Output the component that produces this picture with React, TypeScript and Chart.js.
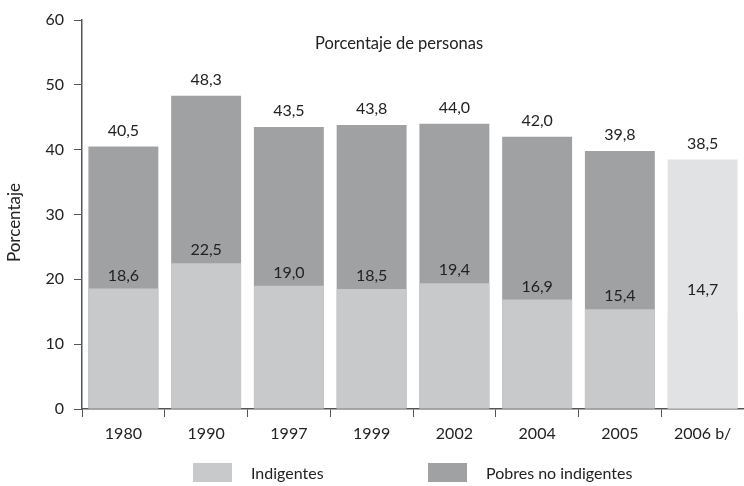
import React, { useEffect, useRef } from "react";
import { Chart, registerables } from "chart.js";

Chart.register(...registerables);

const categories = ["1980", "1990", "1997", "1999", "2002", "2004", "2005", "2006 b/"];
const indigentes = [18.6, 22.5, 19.0, 18.5, 19.4, 16.9, 15.4, 14.7];
const totalPobres = [40.5, 48.3, 43.5, 43.8, 44.0, 42.0, 39.8, 38.5];
const projected = [false, false, false, false, false, false, false, true];
const yTicks = [0, 10, 20, 30, 40, 50, 60];

const COLOR_IND = "#c8c9cb";
const COLOR_POB = "#a0a1a3";
const COLOR_PROJ = "#e1e2e4";
const AXIS = "#555555";
const TEXT = "#222222";
const FONT = "Lato, 'Open Sans', sans-serif";

const fmt = (v: number) => v.toFixed(1).replace(".", ",");

const labelsPlugin = {
  id: "customLabels",
  afterDatasetsDraw(chart: any) {
    const ctx = chart.ctx;
    const y = chart.scales.y;
    const meta0 = chart.getDatasetMeta(0);
    ctx.save();
    ctx.fillStyle = TEXT;
    ctx.font = `16px ${FONT}`;
    ctx.textAlign = "center";
    ctx.textBaseline = "middle";
    meta0.data.forEach((bar: any, i: number) => {
      const x = bar.x;
      const topY = y.getPixelForValue(totalPobres[i]);
      ctx.fillText(fmt(totalPobres[i]), x, topY - 16);
      const indY = y.getPixelForValue(indigentes[i]);
      const off = projected[i] ? 24 : 13;
      ctx.fillText(fmt(indigentes[i]), x, indY - off);
    });
    const ca = chart.chartArea;
    // subtitle
    ctx.font = `16.5px ${FONT}`;
    ctx.fillText("Porcentaje de personas", (ca.left + ca.right) / 2 - 14, ca.top + 24);
    // y axis title
    ctx.save();
    ctx.translate(15, (ca.top + ca.bottom) / 2 + 8);
    ctx.rotate(-Math.PI / 2);
    ctx.font = `17px ${FONT}`;
    ctx.fillText("Porcentaje", 0, 0);
    ctx.restore();
    // legend
    const items = [
      { label: "Indigentes", color: COLOR_IND, x: 193 },
      { label: "Pobres no indigentes", color: COLOR_POB, x: 428 },
    ];
    ctx.textAlign = "left";
    ctx.font = `16px ${FONT}`;
    items.forEach((it) => {
      ctx.fillStyle = it.color;
      ctx.fillRect(it.x, 463, 39, 19);
      ctx.fillStyle = TEXT;
      ctx.fillText(it.label, it.x + 58, 474);
    });
    ctx.restore();
  },
};

export default function App() {
  const ref = useRef<HTMLCanvasElement>(null);
  useEffect(() => {
    if (!ref.current) return;
    const chart = new Chart(ref.current, {
      type: "bar",
      data: {
        labels: categories,
        datasets: [
          {
            label: "Indigentes",
            data: indigentes,
            backgroundColor: indigentes.map((_, i) => (projected[i] ? COLOR_PROJ : COLOR_IND)),
            barPercentage: 0.845,
            categoryPercentage: 1,
          },
          {
            // drawn behind the first dataset: total poor (indigentes + pobres no indigentes)
            label: "Pobres no indigentes",
            data: totalPobres,
            backgroundColor: totalPobres.map((_, i) => (projected[i] ? COLOR_PROJ : COLOR_POB)),
            barPercentage: 0.845,
            categoryPercentage: 1,
          },
        ],
      },
      options: {
        animation: false,
        responsive: false,
        layout: { padding: { top: 20, right: 0, bottom: 37, left: 0 } },
        plugins: {
          legend: { display: false },
          tooltip: { enabled: false },
        },
        scales: {
          x: {
            stacked: true,
            grid: {
              offset: true,
              drawOnChartArea: false,
              drawTicks: true,
              tickLength: 8,
              color: AXIS,
            },
            border: { color: AXIS, width: 1.5 },
            ticks: {
              color: TEXT,
              font: { family: FONT, size: 16 },
              padding: 7,
              maxRotation: 0,
            },
            afterFit: (s: any) => {
              s.height = 40;
            },
          },
          y: {
            stacked: false,
            min: 0,
            max: 60,
            afterBuildTicks: (s: any) => {
              s.ticks = yTicks.map((v) => ({ value: v }));
            },
            grid: {
              drawOnChartArea: false,
              drawTicks: true,
              tickLength: 8,
              color: AXIS,
            },
            border: { color: AXIS, width: 1.5 },
            ticks: {
              color: TEXT,
              font: { family: FONT, size: 16 },
              padding: 10,
            },
            afterFit: (s: any) => {
              s.width = 82;
            },
          },
        },
      },
      plugins: [labelsPlugin],
    });
    return () => chart.destroy();
  }, []);
  return (
    <div style={{ position: "absolute", left: 0, top: 0, width: 744, height: 486, background: "#fff" }}>
      <canvas ref={ref} width={744} height={486} style={{ display: "block" }} />
    </div>
  );
}
